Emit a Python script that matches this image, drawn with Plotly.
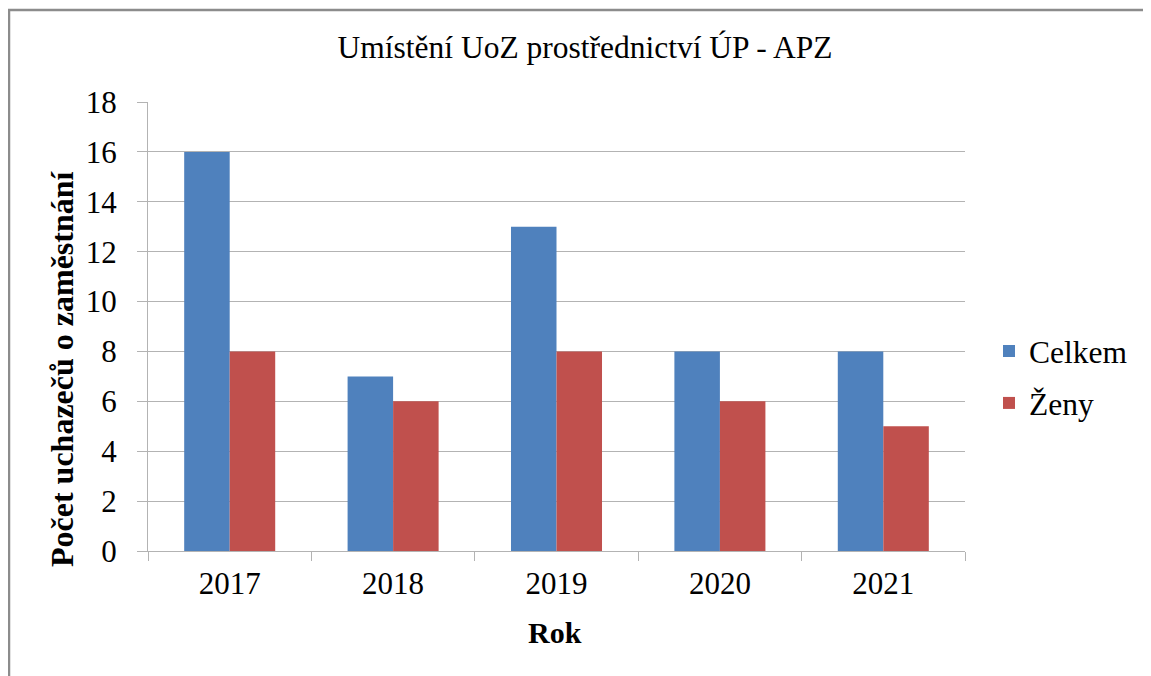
import plotly.graph_objects as go

years = ["2017", "2018", "2019", "2020", "2021"]
celkem = [16, 7, 13, 8, 8]
zeny = [8, 6, 8, 6, 5]
series_names = ["Celkem", "Ženy"]
title_text = "Umístění UoZ prostřednictví ÚP - APZ"
y_title = "Počet uchazečů o zaměstnání"
x_title = "Rok"

OFF = 8  # page body margin offset
W, H = 1151 - OFF, 676 - OFF
L, R, T, B = 148 - OFF, 965 - OFF, 102 - OFF, 551 - OFF
PW, PH = R - L, B - T

def px(x):
    return (x - OFF - L) / PW

def py(y):
    return (B - (y - OFF)) / PH

FONT = "Liberation Serif"
GRID = "#b3b3b3"

fig = go.Figure()
fig.add_trace(go.Bar(x=years, y=celkem, name=series_names[0], marker_color="#4F81BD",
                     marker_line_width=0, legendgroup="a"))
fig.add_trace(go.Bar(x=years, y=zeny, name=series_names[1], marker_color="#C0504D",
                     marker_line_width=0, legendgroup="b"))

fig.update_layout(
    width=W, height=H,
    margin=dict(l=L, r=W - R, t=T, b=H - B, pad=0),
    paper_bgcolor="white", plot_bgcolor="white",
    font=dict(family=FONT, color="black", size=31),
    bargap=0.443, bargroupgap=0,
    title=dict(text=title_text, x=(585 - OFF) / W, xanchor="center", xref="container",
               y=1 - (47 - OFF) / H, yanchor="middle", yref="container",
               font=dict(family=FONT, size=31.5, color="black")),
    legend=dict(x=px(989), y=py(377), xanchor="left", yanchor="middle",
                font=dict(family=FONT, size=31.5, color="black"),
                tracegroupgap=8, bgcolor="rgba(0,0,0,0)", itemwidth=30),
    showlegend=True,
)

fig.update_xaxes(type="category", showline=True, linecolor=GRID, linewidth=1.3,
                 ticks="outside", tickson="boundaries", ticklen=9, tickcolor=GRID,
                 tickwidth=1.3, showgrid=False, ticklabelstandoff=5,
                 tickfont=dict(family=FONT, size=31, color="black"))
fig.update_yaxes(range=[0, 18], dtick=2, tick0=0, showline=True, linecolor=GRID,
                 linewidth=1.3, ticks="outside", ticklen=10, tickcolor=GRID, tickwidth=1.3,
                 showgrid=True, gridcolor=GRID, gridwidth=1.3, zeroline=False,
                 ticklabelstandoff=14,
                 tickfont=dict(family=FONT, size=31, color="black"))

fig.add_annotation(text="<b>" + y_title + "</b>", xref="paper", yref="paper",
                   x=px(62), y=py(369), xanchor="center", yanchor="middle",
                   textangle=-90, showarrow=False,
                   font=dict(family=FONT, size=32, color="black"))
fig.add_annotation(text="<b>" + x_title + "</b>", xref="paper", yref="paper",
                   x=px(555), y=py(632), xanchor="center", yanchor="middle",
                   showarrow=False, font=dict(family=FONT, size=30, color="black"))

fig.add_shape(type="rect", xref="paper", yref="paper",
              x0=px(9), x1=px(1200), y0=py(10), y1=py(720),
              line=dict(color="#8c8c8c", width=2.5), fillcolor="rgba(0,0,0,0)", layer="below")

fig.write_html("out.html")
